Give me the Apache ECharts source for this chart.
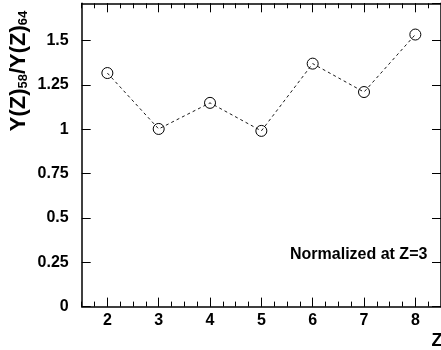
<!DOCTYPE html>
<html>
<head>
<meta charset="utf-8">
<script src="https://cdn.jsdelivr.net/npm/echarts@6/dist/echarts.min.js"></script>
<style>html,body{margin:0;padding:0;background:#fff}#c{width:441px;height:350px}</style>
</head>
<body>
<div id="c"></div>
<script>
var zValues = [2, 3, 4, 5, 6, 7, 8];
var ratioValues = [1.316, 1.001, 1.148, 0.990, 1.369, 1.209, 1.533];
var xTickValues = [2, 3, 4, 5, 6, 7, 8];
var yTickInterval = 0.25;
var xRange = [1.5, 8.5];
var yRange = [0, 1.709];
var annotationText = 'Normalized at Z=3';
var xTitle = 'Z';

var FONT = '"Liberation Sans", Arial, sans-serif';
var chart = echarts.init(document.getElementById('c'), null, {renderer: 'canvas'});
var blackLine = {color: '#000', width: 1.5};
function xAx(pos, major, labels) {
  var a = {
    type: 'value', position: pos, min: xRange[0], max: xRange[1], gridIndex: 0,
    axisLine: {show: major, onZero: false, lineStyle: blackLine},
    splitLine: {show: false},
    axisLabel: {show: false}
  };
  if (major) {
    a.axisTick = {show: true, inside: true, length: 9, customValues: xTickValues, lineStyle: {color: '#000', width: 1}};
    if (labels) {
      a.axisLabel = {show: true, customValues: xTickValues, color: '#000', fontFamily: FONT, fontWeight: 'bold', fontSize: 16, margin: 6};
    }
  } else {
    a.interval = 0.25;
    a.axisTick = {show: true, inside: true, length: 5, lineStyle: {color: '#000', width: 1}};
  }
  return a;
}
function yAx(pos, labels) {
  return {
    type: 'value', position: pos, min: yRange[0], max: yRange[1], interval: yTickInterval,
    axisLine: {show: true, onZero: false, lineStyle: blackLine},
    axisTick: {show: true, inside: true, length: 9, lineStyle: {color: '#000', width: 1}},
    splitLine: {show: false},
    axisLabel: {show: labels, showMaxLabel: false, color: '#000', fontFamily: FONT, fontWeight: 'bold', fontSize: 16, margin: 13}
  };
}
var data = zValues.map(function (z, i) { return [z, ratioValues[i]]; });
chart.setOption({
  animation: false,
  backgroundColor: '#fff',
  grid: {left: 81.7, top: 3.3, width: 362, height: 303.3, containLabel: false},
  xAxis: [xAx('bottom', true, true), xAx('bottom', false), xAx('top', true, false), xAx('top', false)],
  yAxis: [yAx('left', true), yAx('right', false)],
  series: [{
    type: 'line', xAxisIndex: 0, yAxisIndex: 0, data: data,
    symbol: 'circle', symbolSize: 11,
    itemStyle: {color: 'rgba(255,255,255,0)', borderColor: '#000', borderWidth: 1},
    lineStyle: {color: '#000', width: 0.9, type: [3, 3]}
  }],
  graphic: [
    {type: 'text', left: 290, top: 247, style: {text: annotationText, fill: '#000', font: 'bold 16px ' + FONT}},
    {type: 'text', x: 437, y: 341, style: {text: xTitle, fill: '#000', font: 'bold 18px ' + FONT, align: 'center', verticalAlign: 'middle'}},
    {type: 'text', x: 19, y: 71, rotation: Math.PI / 2,
      style: {
        text: '{m|Y(Z)}{s|58}{m|/Y(Z)}{s|64}', align: 'center', verticalAlign: 'middle',
        rich: {
          m: {fontFamily: FONT, fontWeight: 'bold', fontSize: 22, lineHeight: 22, fill: '#000'},
          s: {fontFamily: FONT, fontWeight: 'bold', fontSize: 13, lineHeight: 12, verticalAlign: 'bottom', fill: '#000'}
        }
      }
    }
  ]
});
</script>
</body>
</html>
